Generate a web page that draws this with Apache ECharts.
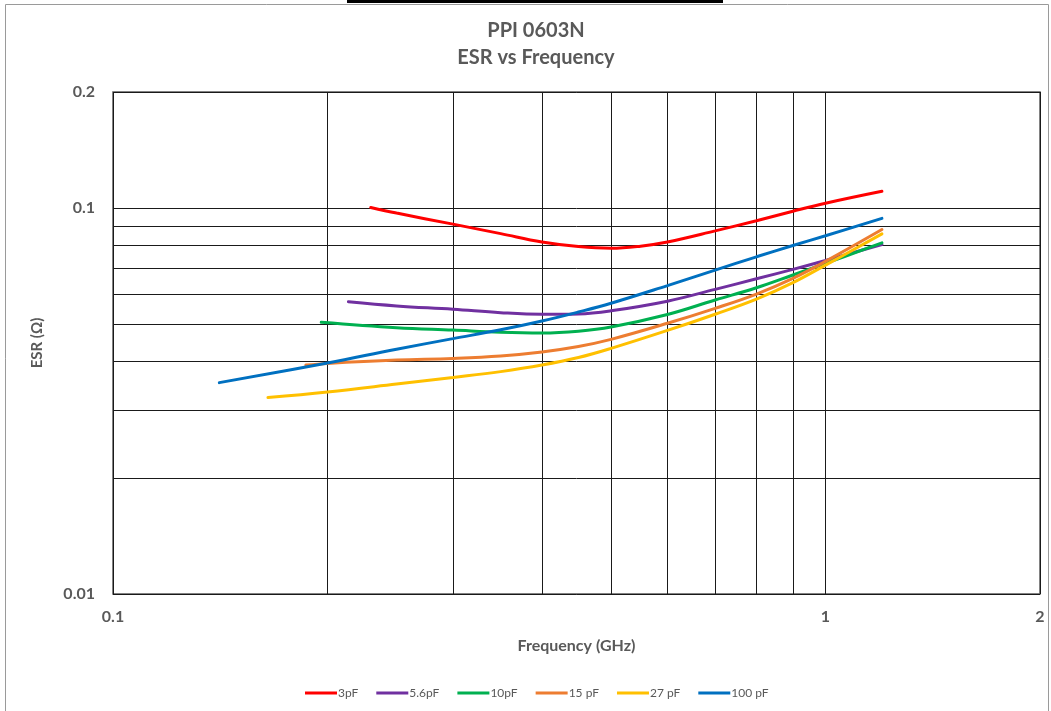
<!DOCTYPE html>
<html>
<head>
<meta charset="utf-8">
<script src="https://cdn.jsdelivr.net/npm/echarts@6/dist/echarts.min.js"></script>
<style>
html,body{margin:0;padding:0;background:#fff;}
#chart{width:1051px;height:711px;}
</style>
</head>
<body>
<div id="chart"></div>
<script>
// ---- data (frequency in GHz, ESR in ohm) ----
const seriesNames = ['3pF', '5.6pF', '10pF', '15 pF', '27 pF', '100 pF'];

const freq3pF   = [0.23, 0.25, 0.3, 0.35, 0.4, 0.45, 0.5, 0.55, 0.6, 0.7, 0.8, 0.9, 1.0, 1.2];
const esr3pF    = [0.1004, 0.0971, 0.0909, 0.0859, 0.0817, 0.0795, 0.0787, 0.0797, 0.0817, 0.0873, 0.0928, 0.0982, 0.1030, 0.1106];

const freq5p6pF = [0.214, 0.25, 0.3, 0.35, 0.4, 0.45, 0.5, 0.6, 0.7, 0.8, 0.9, 1.0, 1.2];
const esr5p6pF  = [0.0572, 0.0558, 0.0547, 0.0536, 0.0531, 0.0532, 0.0542, 0.0574, 0.0616, 0.0656, 0.0694, 0.0732, 0.0805];

const freq10pF  = [0.196, 0.25, 0.3, 0.35, 0.4, 0.45, 0.5, 0.6, 0.7, 0.8, 0.9, 1.0, 1.2];
const esr10pF   = [0.0506, 0.0490, 0.0483, 0.0477, 0.0475, 0.0480, 0.0492, 0.0530, 0.0578, 0.0622, 0.0671, 0.0719, 0.0813];

const freq15pF  = [0.1865, 0.2, 0.25, 0.3, 0.35, 0.4, 0.45, 0.5, 0.6, 0.7, 0.8, 0.9, 1.0, 1.2];
const esr15pF   = [0.0392, 0.0396, 0.0404, 0.0408, 0.0414, 0.0424, 0.0438, 0.0457, 0.0503, 0.0550, 0.0599, 0.0658, 0.0728, 0.0880];

const freq27pF  = [0.165, 0.2, 0.25, 0.3, 0.35, 0.4, 0.45, 0.5, 0.6, 0.7, 0.8, 0.9, 1.0, 1.2];
const esr27pF   = [0.0323, 0.0334, 0.0350, 0.0364, 0.0377, 0.0392, 0.0410, 0.0433, 0.0482, 0.0531, 0.0581, 0.0641, 0.0712, 0.0858];

const freq100pF = [0.141, 0.2, 0.25, 0.3, 0.35, 0.4, 0.45, 0.5, 0.6, 0.7, 0.8, 0.9, 1.0, 1.2];
const esr100pF  = [0.0353, 0.0397, 0.0431, 0.0459, 0.0484, 0.0510, 0.0538, 0.0567, 0.0630, 0.0691, 0.0748, 0.0800, 0.0848, 0.0941];

// minor gridline positions
const gridX = [0.2, 0.3, 0.4, 0.5, 0.6, 0.7, 0.8, 0.9];
const gridY = [0.02, 0.03, 0.04, 0.05, 0.06, 0.07, 0.08, 0.09];

const seriesColors = ['#FF0000', '#7030A0', '#00B050', '#ED7D31', '#FFC000', '#0070C0'];
const freqs = [freq3pF, freq5p6pF, freq10pF, freq15pF, freq27pF, freq100pF];
const esrs  = [esr3pF, esr5p6pF, esr10pF, esr15pF, esr27pF, esr100pF];

const FONT = 'Lato, "Open Sans", sans-serif';
const GRAY = '#595959';

const lineSeries = seriesNames.map((name, i) => ({
  name: name,
  type: 'line',
  data: freqs[i].map((f, j) => [f, esrs[i][j]]),
  smooth: 0.4,
  showSymbol: false,
  symbol: 'none',
  z: 5,
  lineStyle: { width: 3, color: seriesColors[i], cap: 'round' },
  itemStyle: { color: seriesColors[i] }
}));

const gridSeries = {
  name: 'grid',
  type: 'line',
  data: [],
  silent: true,
  z: 1,
  markLine: {
    silent: true,
    symbol: ['none', 'none'],
    label: { show: false },
    animation: false,
    lineStyle: { color: '#1a1a1a', width: 1, type: 'solid' },
    emphasis: { disabled: true },
    data: gridX.map(v => ({ xAxis: v })).concat(gridY.map(v => ({ yAxis: v })))
  }
};

const chart = echarts.init(document.getElementById('chart'), null, { renderer: 'canvas' });
chart.setOption({
  animation: false,
  backgroundColor: '#fff',
  title: {
    text: 'PPI 0603N\nESR vs Frequency',
    left: 531,
    top: 12,
    textAlign: 'center',
    textStyle: { fontFamily: FONT, fontWeight: 'bold', fontSize: 20, color: GRAY, lineHeight: 27 }
  },
  legend: {
    data: seriesNames,
    left: 300,
    top: 682,
    icon: 'rect',
    itemWidth: 32,
    itemHeight: 3,
    itemGap: 18,
    textStyle: { fontFamily: FONT, fontSize: 12, color: GRAY, padding: [0, 0, 0, -4] }
  },
  grid: {
    left: 113, right: 11, top: 92, bottom: 117,
    show: true, borderColor: '#595959', borderWidth: 1.5, backgroundColor: 'transparent',
    containLabel: false
  },
  xAxis: {
    type: 'log',
    logBase: 10,
    min: 0.1,
    max: 2,
    name: 'Frequency (GHz)',
    nameLocation: 'middle',
    nameGap: 44,
    nameTextStyle: { fontFamily: FONT, fontWeight: 'bold', fontSize: 16, color: GRAY },
    axisLine: { show: false },
    axisTick: { show: false },
    axisLabel: {
      fontFamily: FONT, fontWeight: 'bold', fontSize: 16, color: GRAY, margin: 15,
      showMinLabel: true, showMaxLabel: true,
      formatter: v => String(+(+v).toPrecision(3))
    },
    splitLine: { show: true, lineStyle: { color: '#1a1a1a', width: 1 } },
    minorTick: { show: false },
    minorSplitLine: { show: false }
  },
  yAxis: {
    type: 'log',
    logBase: 10,
    min: 0.01,
    max: 0.2,
    name: 'ESR (Ω)',
    nameLocation: 'middle',
    nameGap: 68,
    nameRotate: 90,
    nameTextStyle: { fontFamily: FONT, fontWeight: 'bold', fontSize: 15, color: GRAY },
    axisLine: { show: false },
    axisTick: { show: false },
    axisLabel: {
      fontFamily: FONT, fontWeight: 'bold', fontSize: 16, color: GRAY, margin: 18,
      showMinLabel: true, showMaxLabel: true,
      formatter: v => String(+(+v).toPrecision(3))
    },
    splitLine: { show: true, lineStyle: { color: '#1a1a1a', width: 1 } }
  },
  graphic: [
    { type: 'rect', silent: true, z: -1,
      shape: { x: 5.5, y: 4.5, width: 1043, height: 720 },
      style: { fill: 'none', stroke: '#9a9a9a', lineWidth: 1 } },
    { type: 'rect', silent: true, z: 10,
      shape: { x: 347, y: 0, width: 376, height: 3 },
      style: { fill: '#000' } }
  ],
  series: [gridSeries].concat(lineSeries)
});
</script>
</body>
</html>
